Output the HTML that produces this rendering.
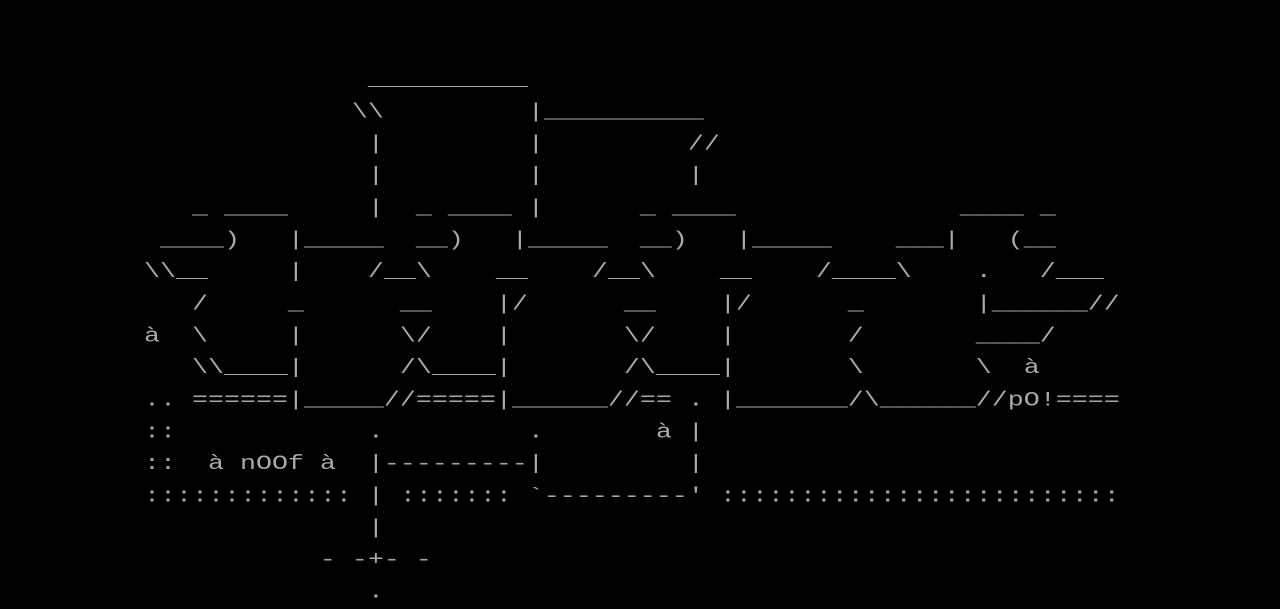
<!DOCTYPE html>
<html><head><meta charset="utf-8"><style>
html,body{margin:0;padding:0;background:#000;width:1280px;height:608px;overflow:hidden}
pre{position:absolute;left:0;top:1px;margin:0;font-family:"Liberation Mono",monospace;font-size:26.667px;letter-spacing:0;line-height:42.667px;color:#aaaaaa;transform:scaleY(0.75);transform-origin:0 0}
</style></head><body><pre>


                       __________
                      \\         |__________
                       |         |         //
                       |         |         |
            _ ____     |  _ ____ |      _ ____              ____ _
          ____)   |_____  __)   |_____  __)   |_____    ___|   (__
         \\__     |    /__\    __    /__\    __    /____\    .   /___
            /     _      __    |/      __    |/      _       |______//
         à  \     |      \/    |       \/    |       /       ____/
            \\____|      /\____|       /\____|       \       \  à
         .. ======|_____//=====|______//== . |_______/\______//pO!====
         ::            .         .       à |
         ::  à nOOf à  |---------|         |
         ::::::::::::: | ::::::: `---------' :::::::::::::::::::::::::
                       |
                    - -+- -
                       .
</pre></body></html>
